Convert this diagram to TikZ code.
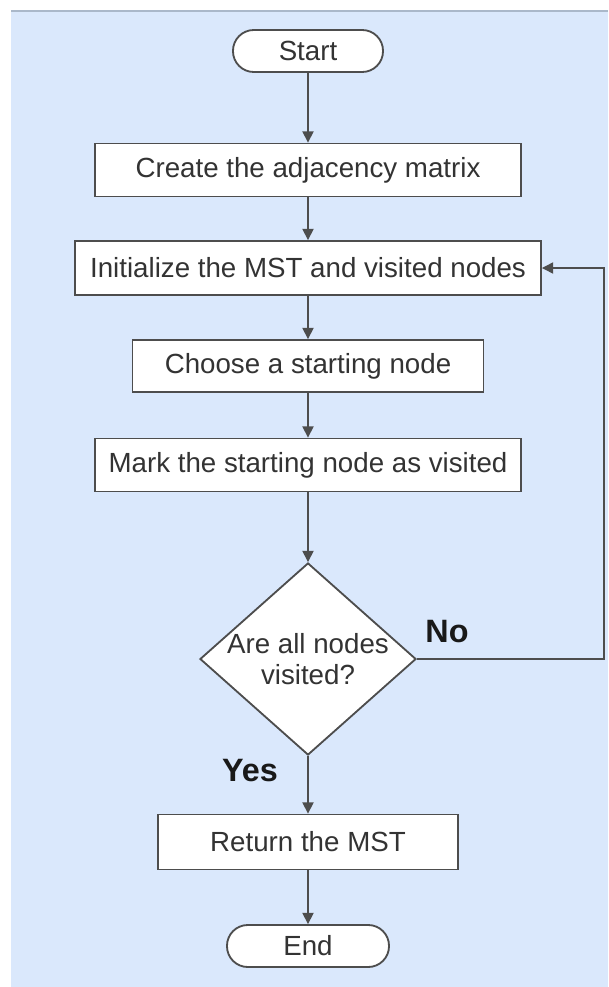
\documentclass[tikz,border=0pt]{standalone}
\usepackage{fontspec}
\setmainfont{Liberation Sans}
\usetikzlibrary{arrows.meta,shapes.geometric}
\definecolor{sheet}{HTML}{DAE8FC}
\definecolor{rim}{HTML}{AAB8CA}
\definecolor{edge}{HTML}{4D4D4D}
\definecolor{ink}{HTML}{333333}
\tikzset{
  boxtext/.style={text=ink, font=\fontsize{19.7}{21.5}\selectfont},
  terminal/.style={boxtext, draw=edge, fill=white, line width=1.3pt, rectangle, rounded corners=0.52cm, minimum height=1.05cm},
  process/.style={boxtext, draw=edge, fill=white, line width=1.3pt, rectangle},
  decision/.style={boxtext, draw=edge, fill=white, line width=1.3pt, diamond, align=center, inner sep=-4pt, minimum width=5.4cm, minimum height=4.8cm},
  flow/.style={draw=edge, line width=1pt, -{Triangle[length=0.28cm, width=0.28cm]}},
  answer/.style={text=black!90, font=\fontsize{23}{27}\selectfont\bfseries}
}

\begin{document}
\begin{tikzpicture}[x=0.025cm, y=-0.025cm]
		%%%%% START %%%%%
		
		\useasboundingbox (0, 0) rectangle (608, 987);
		\fill[sheet] (11, 11) rectangle (608, 987);
		\draw[line width=0.8pt, color=rim] (11, 11) -- (608, 11);
		
		\node[terminal, minimum width=3.75cm] (start) at (308, 51) {Start};
		\node[process, minimum width=10.65cm, minimum height=1.325cm] (adj) at (308, 170) {Create the adjacency matrix};
		\node[process, minimum width=11.65cm, minimum height=1.35cm] (init) at (308, 268) {Initialize the MST and visited nodes};
		\node[process, minimum width=8.775cm, minimum height=1.3cm] (choose) at (308, 366) {Choose a starting node};
		\node[process, minimum width=10.65cm, minimum height=1.325cm] (mark) at (308, 465) {Mark the starting node as visited};
		\node[decision] (check) at (308, 659) {Are all nodes\\visited?};
		\node[process, minimum width=7.5cm, minimum height=1.375cm] (ret) at (308, 842) {Return the MST};
		\node[terminal, minimum width=4.05cm] (end) at (308, 946) {End};
		
		\node[answer] (no) at (447, 632) {No};
		\node[answer] (yes) at (250, 771) {Yes};
		\coordinate (loop) at (604, 659);
		
		\draw[flow] (start) -- (adj);
		\draw[flow] (adj) -- (init);
		\draw[flow] (init) -- (choose);
		\draw[flow] (choose) -- (mark);
		\draw[flow] (mark) -- (check);
		\draw[flow] (check) -- (ret);
		\draw[flow] (ret) -- (end);
		\draw[flow] (check.east) -- (loop) |- (init.east);
		
		%%%%% END %%%%%
	\end{tikzpicture}
\end{document}
